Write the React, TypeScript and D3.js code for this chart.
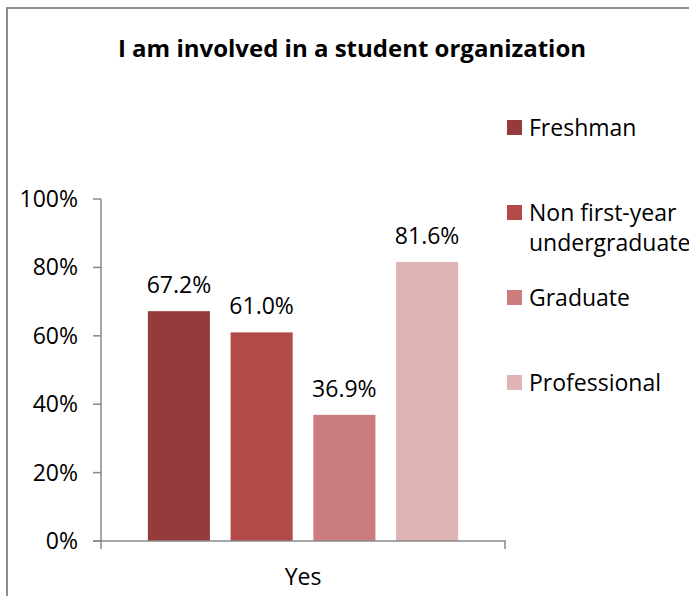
import React, { useEffect, useRef } from "react";
import * as d3 from "d3";

const categories = ["Yes"];
const seriesNames = ["Freshman", "Non first-year undergraduate", "Graduate", "Professional"];
const legendLines = [["Freshman"], ["Non first-year", "undergraduate"], ["Graduate"], ["Professional"]];
const values = [0.672, 0.61, 0.369, 0.816];
const valueLabels = ["67.2%", "61.0%", "36.9%", "81.6%"];
const yTicks = [0, 0.2, 0.4, 0.6, 0.8, 1.0];
const colors = ["#953B3B", "#B34A48", "#CB7C7C", "#DFB4B4"];

const W = 689;
const H = 596;
const FONT = "'Open Sans', 'Liberation Sans', sans-serif";
const AXIS = "#888888";
const FS = 23;

export default function App() {
  const ref = useRef<SVGSVGElement | null>(null);

  useEffect(() => {
    const svg = d3.select(ref.current);
    svg.selectAll("*").remove();

    // frame
    svg
      .append("rect")
      .attr("x", 7)
      .attr("y", 8)
      .attr("width", W + 20)
      .attr("height", H + 20)
      .attr("fill", "white")
      .attr("stroke", "#8c8c8c")
      .attr("stroke-width", 2);

    svg
      .append("text")
      .attr("x", 352)
      .attr("y", 57)
      .attr("text-anchor", "middle")
      .attr("font-family", FONT)
      .attr("font-weight", "bold")
      .attr("font-size", 24)
      .attr("fill", "#000")
      .text("I am involved in a student organization");

    const left = 101;
    const right = 505;
    const y = d3.scaleLinear().domain([0, 1]).range([541, 199]);

    const x0 = d3.scaleBand().domain(categories).range([left, right]).paddingInner(0).paddingOuter(0.151);
    const x1 = d3.scaleBand().domain(seriesNames).range([0, x0.bandwidth()]).paddingInner(0.25).paddingOuter(0);

    // y axis
    const gy = svg.append("g");
    gy.append("line")
      .attr("x1", left)
      .attr("x2", left)
      .attr("y1", y(1))
      .attr("y2", y(0) + 8)
      .attr("stroke", AXIS)
      .attr("stroke-width", 1.5);
    yTicks.forEach((t) => {
      gy.append("line")
        .attr("x1", left - 8)
        .attr("x2", left)
        .attr("y1", y(t))
        .attr("y2", y(t))
        .attr("stroke", AXIS)
        .attr("stroke-width", 1.5);
      gy.append("text")
        .attr("x", 78)
        .attr("y", y(t))
        .attr("dy", "0.35em")
        .attr("text-anchor", "end")
        .attr("font-family", FONT)
        .attr("font-size", FS)
        .attr("fill", "#000")
        .text(d3.format(".0%")(t));
    });

    // bars
    categories.forEach((c) => {
      const g = svg.append("g").attr("transform", `translate(${x0(c)},0)`);
      seriesNames.forEach((s, i) => {
        g.append("rect")
          .attr("x", x1(s)!)
          .attr("y", y(values[i]))
          .attr("width", x1.bandwidth())
          .attr("height", y(0) - y(values[i]))
          .attr("fill", colors[i]);
        g.append("text")
          .attr("x", x1(s)! + x1.bandwidth() / 2)
          .attr("y", y(values[i]) - 18)
          .attr("text-anchor", "middle")
          .attr("font-family", FONT)
          .attr("font-size", FS)
          .attr("fill", "#000")
          .text(valueLabels[i]);
      });
      svg
        .append("text")
        .attr("x", x0(c)! + x0.bandwidth() / 2)
        .attr("y", 585)
        .attr("text-anchor", "middle")
        .attr("font-family", FONT)
        .attr("font-size", FS)
        .attr("fill", "#000")
        .text(c);
    });

    // x axis
    svg
      .append("line")
      .attr("x1", left - 8)
      .attr("x2", right + 1)
      .attr("y1", y(0))
      .attr("y2", y(0))
      .attr("stroke", AXIS)
      .attr("stroke-width", 1.5);
    svg
      .append("line")
      .attr("x1", right)
      .attr("x2", right)
      .attr("y1", y(0))
      .attr("y2", y(0) + 8)
      .attr("stroke", AXIS)
      .attr("stroke-width", 1.5);

    // legend
    const lg = svg.append("g");
    legendLines.forEach((lines, i) => {
      const cy = 127.5 + i * 85;
      lg.append("rect")
        .attr("x", 507)
        .attr("y", cy - 7.5)
        .attr("width", 15)
        .attr("height", 15)
        .attr("fill", colors[i]);
      lines.forEach((ln, j) => {
        lg.append("text")
          .attr("x", 529)
          .attr("y", cy + j * 30)
          .attr("dy", "0.35em")
          .attr("font-family", FONT)
          .attr("font-size", FS)
          .attr("fill", "#000")
          .text(ln);
      });
    });
  }, []);

  return (
    <svg ref={ref} width={W} height={H} style={{ position: "absolute", left: 0, top: 0, display: "block" }} />
  );
}
